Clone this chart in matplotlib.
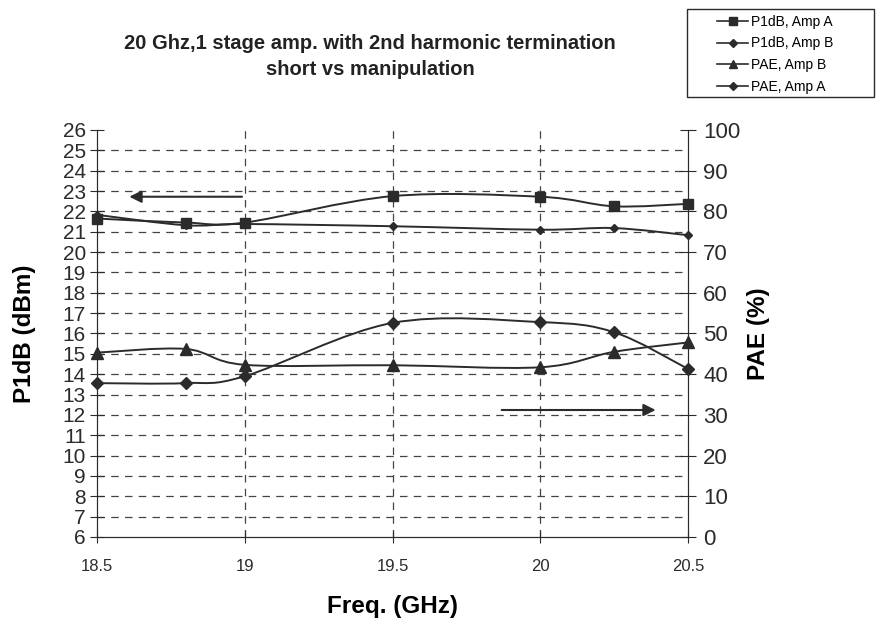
import matplotlib
matplotlib.use("Agg")
import matplotlib.pyplot as plt
from matplotlib.path import Path
from matplotlib.patches import PathPatch, Rectangle
from matplotlib.lines import Line2D
import numpy as np

# frequency points (GHz)
freq = [18.5, 18.8, 19.0, 19.5, 20.0, 20.25, 20.5]

# left axis, P1dB (dBm)
p1db_a = [21.65, 21.45, 21.45, 22.75, 22.72, 22.25, 22.37]
p1db_b = [21.83, 21.32, 21.38, 21.27, 21.1, 21.18, 20.83]

# right axis, PAE (%)
pae_b = [45.3, 46.2, 42.3, 42.2, 41.7, 45.5, 47.8]
pae_a = [37.8, 37.8, 39.5, 52.6, 52.8, 50.3, 41.3]

line_col = "#2b2b2b"
grid_col = "#444444"

plt.rcParams['font.family'] = ['Liberation Sans', 'DejaVu Sans']


def smooth_path(x, y):
    # smoothed line like the spreadsheet chart: bezier segments through the points
    pts = np.column_stack([x, y]).astype(float)
    n = len(pts)
    verts = [pts[0]]
    codes = [Path.MOVETO]
    for i in range(n - 1):
        p0 = pts[max(i - 1, 0)]
        p1 = pts[i]
        p2 = pts[i + 1]
        p3 = pts[min(i + 2, n - 1)]
        verts += [p1 + (p2 - p0) / 6, p2 - (p3 - p1) / 6, p2]
        codes += [Path.CURVE4] * 3
    return Path(verts, codes)


fig = plt.figure(figsize=(8.77, 6.19), dpi=100)
ax = fig.add_axes([0.1106, 0.1325, 0.6739, 0.6575])
ax2 = ax.twinx()

ax.set_xlim(18.5, 20.5)
ax.set_ylim(6, 26)
ax2.set_ylim(0, 100)

# grid
for v in range(7, 26):
    ax.axhline(v, color=grid_col, lw=0.9, ls=(0, (6, 5)), zorder=1)
for v in [19.0, 19.5, 20.0]:
    ax.axvline(v, color=grid_col, lw=0.9, ls=(0, (6, 5)), zorder=1)

# series
ax.add_patch(PathPatch(smooth_path(freq, p1db_a), fill=False, color=line_col, lw=1.4, zorder=3))
ax.plot(freq, p1db_a, ls="none", marker="s", ms=7.5, color=line_col, zorder=4, clip_on=False)
ax.add_patch(PathPatch(smooth_path(freq, p1db_b), fill=False, color=line_col, lw=1.4, zorder=3))
ax.plot(freq, p1db_b, ls="none", marker="D", ms=4.5, color=line_col, zorder=4, clip_on=False)
ax2.add_patch(PathPatch(smooth_path(freq, pae_b), fill=False, color=line_col, lw=1.4, zorder=3))
ax2.plot(freq, pae_b, ls="none", marker="^", ms=8.5, color=line_col, zorder=4, clip_on=False)
ax2.add_patch(PathPatch(smooth_path(freq, pae_a), fill=False, color=line_col, lw=1.4, zorder=3))
ax2.plot(freq, pae_a, ls="none", marker="D", ms=6, color=line_col, zorder=4, clip_on=False)

# direction arrows
ax.annotate("", xy=(18.6, 22.72), xytext=(19.0, 22.72),
            arrowprops=dict(arrowstyle="-|>", color=line_col, lw=1.5, mutation_scale=18))
ax2.annotate("", xy=(20.4, 31.2), xytext=(19.86, 31.2),
             arrowprops=dict(arrowstyle="-|>", color=line_col, lw=1.5, mutation_scale=18))

# axes styling
for a in (ax, ax2):
    a.spines['top'].set_visible(False)
    for s in a.spines.values():
        s.set_color(line_col)
ax.set_xticks([18.5, 19, 19.5, 20, 20.5])
ax.set_xticklabels(["18.5", "19", "19.5", "20", "20.5"], fontsize=12)
ax.set_yticks(range(6, 27))
ax.tick_params(axis='y', direction='inout', length=10, labelsize=15, pad=3, colors=line_col)
ax.tick_params(axis='x', direction='inout', length=8, pad=12, colors=line_col)
ax2.set_yticks(range(0, 101, 10))
ax2.tick_params(axis='y', direction='inout', length=12, labelsize=16, pad=5, colors=line_col)

ax.set_xlabel("Freq. (GHz)", fontsize=17.5, fontweight="bold", labelpad=15)
ax.set_ylabel("P1dB (dBm)", fontsize=17.5, fontweight="bold")
ax.yaxis.set_label_coords(-0.103, 0.5)
ax2.set_ylabel("PAE (%)", fontsize=17.5, fontweight="bold", labelpad=5)

fig.text(0.422, 0.909, "20 Ghz,1 stage amp. with 2nd harmonic termination\nshort vs manipulation",
         ha="center", va="center", fontsize=14.5, fontweight="bold", linespacing=1.5, color="#222222")

handles = [
    Line2D([], [], color=line_col, marker="s", ms=6, lw=1.2),
    Line2D([], [], color=line_col, marker="D", ms=4, lw=1.2),
    Line2D([], [], color=line_col, marker="^", ms=6, lw=1.2),
    Line2D([], [], color=line_col, marker="D", ms=4.5, lw=1.2),
]
labels = ["P1dB, Amp A", "P1dB, Amp B", "PAE, Amp B", "PAE, Amp A"]
fig.legend(handles, labels, loc="upper left", bbox_to_anchor=(0.818, 0.976),
           fontsize=10, frameon=False, handlelength=2.2, handletextpad=0.25,
           borderpad=0, labelspacing=0.55, borderaxespad=0)
fig.patches.append(Rectangle((0.7834, 0.8433), 0.2132, 0.142, transform=fig.transFigure,
                             fill=False, edgecolor=line_col, lw=1.0))

fig.savefig("out.png", dpi=100)
